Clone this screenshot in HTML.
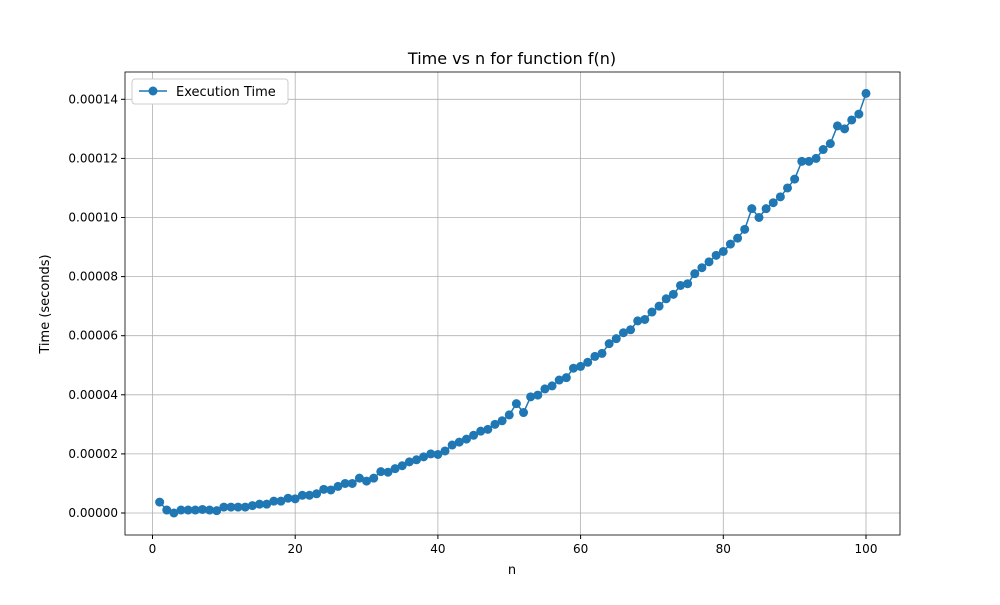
<!DOCTYPE html>
<html><head><meta charset="utf-8"><style>body{margin:0;background:#fff}svg{font-family:"DejaVu Sans","Liberation Sans",sans-serif}</style></head>
<body>
<svg id="c" width="1000" height="600"></svg>
<script>
const nValues = Array.from({length:100},(_,i)=>i+1);
const timeMicro = [3.7,1,0,1,1,1,1.2,1,0.8,2,2,2,2,2.5,3,3,4,4,5,4.8,6,6,6.5,8,7.8,9,10,10,11.8,10.8,11.8,14,13.8,15,16,17.3,18,19,20,19.8,21,23,24,25,26.3,27.7,28.3,30,31.2,33.2,37,34,39.3,39.9,42,43,45,45.8,49,49.6,51,53,54,57.3,59,61,62,65,65.5,68,70,72.5,74,77,77.6,81,83,85,87.2,88.5,91,93,96,103,100,103,105,107,110,113,119,119,120,123,125,131,130,133,135,142];
const xTicks = [0,20,40,60,80,100];
const yTicks = [0,20,40,60,80,100,120,140];
const yTickLabels = ["0.00000","0.00002","0.00004","0.00006","0.00008","0.00010","0.00012","0.00014"];
const L=125,R=900,T=72,B=535;
const xs=n=>152.5+(n)*7.135;
const ys=v=>513-v*2.955;
const svg=document.getElementById('c');
const NS='http://www.w3.org/2000/svg';
function mk(tag,attrs,parent){const e=document.createElementNS(NS,tag);for(const k in attrs)e.setAttribute(k,attrs[k]);(parent||svg).appendChild(e);return e;}
xTicks.forEach(t=>{
 const g=mk('line',{x1:xs(t),x2:xs(t),y1:T,y2:B,stroke:'#b0b0b0','stroke-width':0.8});
 
 
 mk('line',{x1:xs(t),x2:xs(t),y1:B,y2:B+4,stroke:'#000'});
 const tx=mk('text',{x:xs(t),y:B+18,'text-anchor':'middle','font-size':12});tx.textContent=t;
 
 
});
yTicks.forEach((t,i)=>{
 const g=mk('line',{x1:L,x2:R,y1:ys(t),y2:ys(t),stroke:'#b0b0b0','stroke-width':0.8});
 
 
 mk('line',{x1:L-4,x2:L,y1:ys(t),y2:ys(t),stroke:'#000'});
 const tx=mk('text',{x:L-7,y:ys(t)+4,'text-anchor':'end','font-size':12});tx.textContent=yTickLabels[i];
 
 
});
const pts=nValues.map((n,i)=>xs(n)+','+ys(timeMicro[i])).join(' ');
const line=mk('polyline',{points:pts,fill:'none',stroke:'#1f77b4','stroke-width':1.5});


nValues.forEach((n,i)=>{
 const c=mk('circle',{cx:xs(n),cy:ys(timeMicro[i]),r:4.5,fill:'#1f77b4'});
 
 
});
const fr=mk('rect',{x:L,y:T,width:R-L,height:B-T,fill:'none',stroke:'#000','stroke-width':0.8});


</script>
<svg style="position:absolute;left:0;top:0" width="1000" height="600">
<text x="512" y="64" text-anchor="middle" font-size="16">Time vs n for function f(n)</text>
<text x="512" y="574" text-anchor="middle" font-size="13">n</text>
<text transform="translate(49,304) rotate(-90)" text-anchor="middle" font-size="13">Time (seconds)</text>
<g>
<rect x="132" y="79" width="156" height="25" rx="3" fill="#fff" stroke="#ccc"/>
<line x1="139" x2="167" y1="91" y2="91" stroke="#1f77b4" stroke-width="1.5"/>
<circle cx="153" cy="91" r="4.5" fill="#1f77b4"/>
<text x="176" y="96" font-size="13">Execution Time</text>
</g>
</svg>
</body></html>
